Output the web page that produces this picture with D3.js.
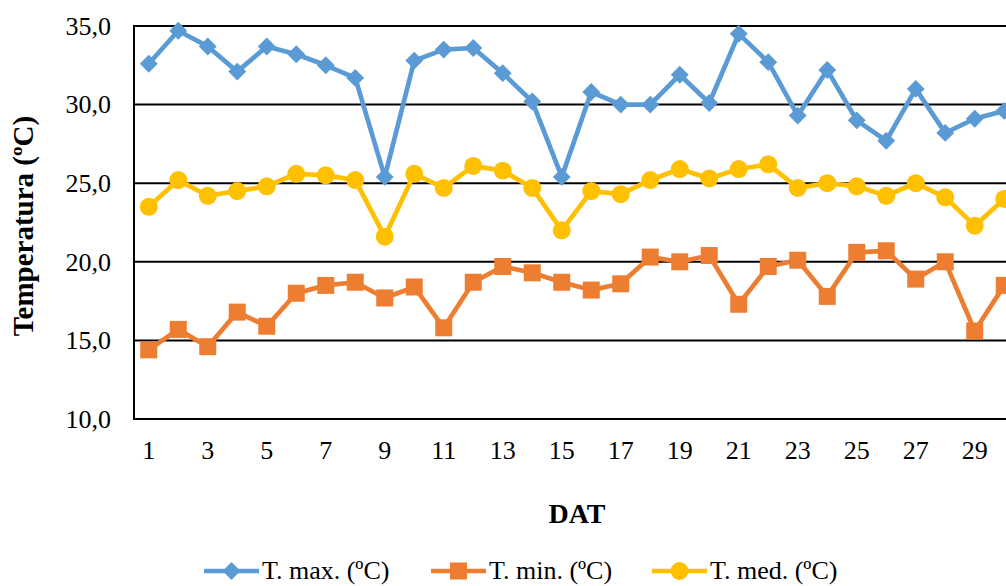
<!DOCTYPE html>
<html>
<head>
<meta charset="utf-8">
<script src="https://cdn.jsdelivr.net/npm/d3@7"></script>
<style>
  html, body { margin: 0; padding: 0; background: #fff; overflow: hidden; }
  svg { display: block; }
  svg text { font-family: "Liberation Serif", "Times New Roman", serif; fill: #000; }
</style>
</head>
<body>
<svg id="chart" width="1006" height="586"></svg>
<script>
// Daily temperatures by DAT (days after transplanting)
const days = d3.range(1, 31);
const tMax = [32.6, 34.7, 33.7, 32.1, 33.7, 33.2, 32.5, 31.7, 25.4, 32.8,
              33.5, 33.6, 32.0, 30.2, 25.4, 30.8, 30.0, 30.0, 31.9, 30.1,
              34.5, 32.7, 29.3, 32.2, 29.0, 27.7, 31.0, 28.2, 29.1, 29.6];
const tMin = [14.4, 15.7, 14.6, 16.8, 15.9, 18.0, 18.5, 18.7, 17.7, 18.4,
              15.8, 18.7, 19.7, 19.3, 18.7, 18.2, 18.6, 20.3, 20.0, 20.4,
              17.3, 19.7, 20.1, 17.8, 20.6, 20.7, 18.9, 20.0, 15.6, 18.5];
const tMed = [23.5, 25.2, 24.2, 24.5, 24.8, 25.6, 25.5, 25.2, 21.6, 25.6,
              24.7, 26.1, 25.8, 24.7, 22.0, 24.5, 24.3, 25.2, 25.9, 25.3,
              25.9, 26.2, 24.7, 25.0, 24.8, 24.2, 25.0, 24.1, 22.3, 24.0];
const yTicks = [10, 15, 20, 25, 30, 35];
const seriesNames = ["T. max. (ºC)", "T. min. (ºC)", "T. med. (ºC)"];

const series = [
  { name: seriesNames[0], values: tMax, color: "#5B9BD5", marker: "diamond" },
  { name: seriesNames[1], values: tMin, color: "#ED7D31", marker: "square" },
  { name: seriesNames[2], values: tMed, color: "#FFC000", marker: "circle" }
];

const svg = d3.select("#chart");
const plot = { left: 134, top: 26, width: 885, height: 393 };

const x = d3.scaleBand().domain(days).range([plot.left, plot.left + plot.width]);
const xc = d => x(d) + x.bandwidth() / 2;
const y = d3.scaleLinear().domain([10, 35]).range([plot.top + plot.height, plot.top]);

// Horizontal gridlines
svg.append("g")
  .selectAll("line")
  .data(yTicks)
  .join("line")
  .attr("x1", plot.left).attr("x2", plot.left + plot.width)
  .attr("y1", d => y(d)).attr("y2", d => y(d))
  .attr("stroke", "#000").attr("stroke-width", 2);

// Left axis line
svg.append("line")
  .attr("x1", plot.left).attr("x2", plot.left)
  .attr("y1", plot.top - 1).attr("y2", plot.top + plot.height + 1)
  .attr("stroke", "#000").attr("stroke-width", 2);

// Y axis tick labels
const fmt = d => d3.format(".1f")(d).replace(".", ",");
const yAxis = d3.axisLeft(y).tickValues(yTicks).tickFormat(fmt).tickSize(0).tickPadding(23);
svg.append("g")
  .attr("transform", `translate(${plot.left},0)`)
  .call(yAxis)
  .call(g => g.select(".domain").remove())
  .attr("font-family", null)
  .attr("font-size", 26)
  .selectAll("text").attr("fill", "#000");

// X axis tick labels (every other day)
const xAxis = d3.axisBottom(x).tickValues(days.filter(d => d % 2 === 1)).tickSize(0).tickPadding(22);
svg.append("g")
  .attr("transform", `translate(0,${plot.top + plot.height})`)
  .call(xAxis)
  .call(g => g.select(".domain").remove())
  .attr("font-family", null)
  .attr("font-size", 26)
  .selectAll("text").attr("fill", "#000");

// Axis titles
svg.append("text")
  .attr("transform", "translate(33,226) rotate(-90)")
  .attr("text-anchor", "middle")
  .attr("font-size", 29).attr("font-weight", "bold")
  .text("Temperatura (ºC)");

svg.append("text")
  .attr("x", 577).attr("y", 523)
  .attr("text-anchor", "middle")
  .attr("font-size", 28).attr("font-weight", "bold")
  .text("DAT");

// Marker shapes
const symbolFor = {
  diamond: d3.symbol().type(d3.symbolSquare).size(160),
  square: d3.symbol().type(d3.symbolSquare).size(289),
  circle: d3.symbol().type(d3.symbolCircle).size(254)
};

const line = d3.line().x((v, i) => xc(days[i])).y(v => y(v));

const chartG = svg.append("g");
series.forEach(s => {
  const g = chartG.append("g");
  g.append("path")
    .datum(s.values)
    .attr("d", line)
    .attr("fill", "none")
    .attr("stroke", s.color)
    .attr("stroke-width", 4.7)
    .attr("stroke-linejoin", "round");
  g.selectAll("path.mk")
    .data(s.values)
    .join("path")
    .attr("class", "mk")
    .attr("d", symbolFor[s.marker]())
    .attr("fill", s.color)
    .attr("transform", (v, i) =>
      `translate(${xc(days[i])},${y(v)})` + (s.marker === "diamond" ? " rotate(45)" : ""));
});

// Legend
const legendItems = [
  { s: series[0], x: 204 },
  { s: series[1], x: 431 },
  { s: series[2], x: 652 }
];
const ly = 571;
legendItems.forEach(it => {
  const g = svg.append("g");
  g.append("line")
    .attr("x1", it.x).attr("x2", it.x + 55)
    .attr("y1", ly).attr("y2", ly)
    .attr("stroke", it.s.color).attr("stroke-width", 4.7);
  g.append("path")
    .attr("d", symbolFor[it.s.marker]())
    .attr("fill", it.s.color)
    .attr("transform", `translate(${it.x + 27.5},${ly})` + (it.s.marker === "diamond" ? " rotate(45)" : ""));
  g.append("text")
    .attr("x", it.x + 58).attr("y", ly + 8)
    .attr("font-size", 26)
    .text(it.s.name);
});
</script>
</body>
</html>
